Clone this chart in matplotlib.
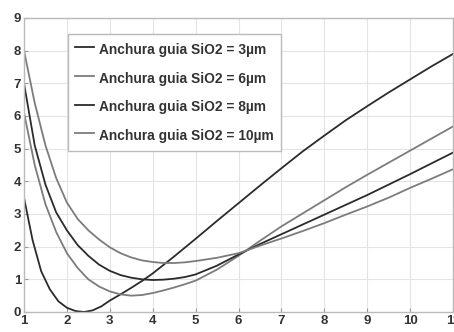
import matplotlib
matplotlib.use("Agg")
import matplotlib.pyplot as plt

plt.rcParams['font.family'] = ['Liberation Sans', 'DejaVu Sans']

x_a = [1.0, 1.2, 1.4, 1.6, 1.8, 2.0, 2.2, 2.4, 2.6, 2.8, 3.0, 3.25, 3.5, 3.75, 4.0, 4.5,
       5.0, 5.5, 6.0, 6.5, 7.0, 7.5, 8.0, 8.5, 9.0, 9.5, 10.0, 10.5, 11.0]
y_3um = [3.5, 2.2, 1.25, 0.7, 0.33, 0.13, 0.03, 0.0, 0.05, 0.17, 0.35, 0.54, 0.74, 0.95, 1.18, 1.7,
         2.24, 2.79, 3.33, 3.87, 4.4, 4.92, 5.4, 5.87, 6.3, 6.72, 7.12, 7.52, 7.9]

x_b = [1.0, 1.25, 1.5, 1.75, 2.0, 2.25, 2.5, 2.75, 3.0, 3.25, 3.5, 3.75, 4.0, 4.25, 4.5, 4.75,
       5.0, 5.5, 6.0, 6.5, 7.0, 7.5, 8.0, 8.5, 9.0, 9.5, 10.0, 10.5, 11.0]
y_6um = [6.1, 4.5, 3.3, 2.45, 1.8, 1.35, 1.0, 0.78, 0.63, 0.54, 0.5, 0.52, 0.58, 0.66, 0.75, 0.85,
         0.96, 1.3, 1.72, 2.18, 2.62, 3.02, 3.42, 3.82, 4.2, 4.57, 4.94, 5.31, 5.68]
y_8um = [7.0, 5.1, 3.9, 3.05, 2.5, 2.05, 1.72, 1.45, 1.26, 1.13, 1.05, 1.0, 0.98, 0.99, 1.02, 1.07,
         1.15, 1.42, 1.76, 2.08, 2.38, 2.68, 2.98, 3.28, 3.58, 3.9, 4.22, 4.55, 4.88]
y_10um = [8.0, 6.4, 5.1, 4.1, 3.35, 2.85, 2.5, 2.22, 1.98, 1.8, 1.67, 1.58, 1.53, 1.5, 1.5, 1.52,
          1.56, 1.66, 1.8, 2.03, 2.25, 2.48, 2.72, 2.98, 3.23, 3.5, 3.8, 4.08, 4.37]

labels = ['Anchura guia SiO2 = 3µm', 'Anchura guia SiO2 = 6µm',
          'Anchura guia SiO2 = 8µm', 'Anchura guia SiO2 = 10µm']
x_ticks = [1, 2, 3, 4, 5, 6, 7, 8, 9, 10, 11]
y_ticks = [0, 1, 2, 3, 4, 5, 6, 7, 8, 9]

fig = plt.figure(figsize=(4.54, 3.32), dpi=100)
ax = fig.add_axes([24/454, 20/332, 429/454, 294/332])

dark = '#2b2b2b'
light = '#7c7c7c'
ax.plot(x_a, y_3um, color=dark, lw=1.3, label=labels[0])
ax.plot(x_b, y_6um, color=light, lw=1.3, label=labels[1])
ax.plot(x_b, y_8um, color=dark, lw=1.3, label=labels[2])
ax.plot(x_b, y_10um, color=light, lw=1.3, label=labels[3])

ax.set_xlim(1, 11)
ax.set_ylim(0, 9)
ax.set_xticks(x_ticks)
ax.set_yticks(y_ticks)
ax.set_xticklabels([str(t) for t in x_ticks], fontsize=9.5, fontweight='bold', color='#333333')
ax.set_yticklabels([str(t) for t in y_ticks], fontsize=9.5, fontweight='bold', color='#333333')
ax.tick_params(direction='in', length=3, color='#999999', pad=2)
ax.grid(True, color='#e4e4e4', lw=0.8)
for s in ax.spines.values():
    s.set_color('#bbbbbb')
    s.set_linewidth(1.0)

leg = ax.legend(loc='upper left', bbox_to_anchor=(0.1026, 0.9456), borderaxespad=0,
                prop={'size': 9.9, 'weight': 'bold'}, handlelength=1.4, handletextpad=0.35,
                handleheight=1.55, labelspacing=0.83, borderpad=0.5, fancybox=False,
                framealpha=1, edgecolor='#bbbbbb')
for t in leg.get_texts():
    t.set_color('#333333')
leg.get_frame().set_linewidth(1.0)

fig.savefig('out.png', dpi=100)
